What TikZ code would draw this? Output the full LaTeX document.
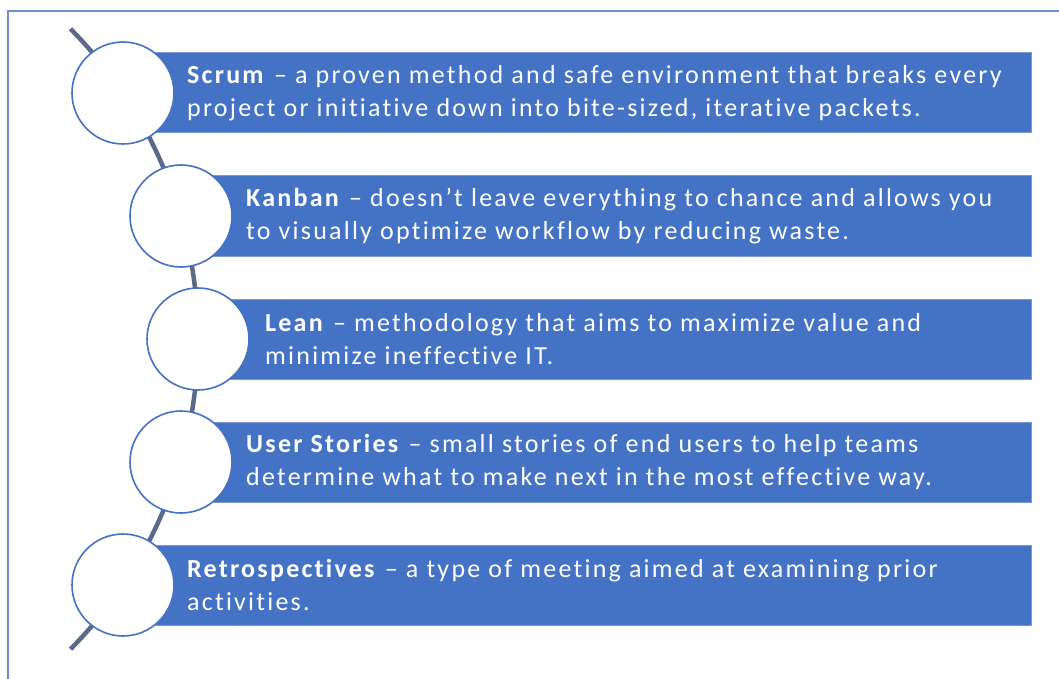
\documentclass[tikz,border=0pt]{standalone}
\usepackage{fontspec}
\setmainfont[Ligatures=NoCommon]{Carlito}
\newfontfamily\barfont[LetterSpace=8.6,Ligatures=NoCommon]{Carlito}
\definecolor{accent}{HTML}{4472C4}
\definecolor{barline}{HTML}{7A98D6}
\definecolor{framecol}{HTML}{6F8FD0}
\definecolor{spine}{RGB}{92,106,138}
\tikzset{
  circ/.style={circle, draw=accent, line width=1.6pt, fill=white, minimum size=102pt, inner sep=0pt},
  bar/.style={rectangle, draw=barline, line width=1pt, fill=accent, minimum height=80pt, inner sep=0pt, anchor=west},
  txt/.style={anchor=west, align=left, text=white, inner sep=0pt, font=\barfont\fontsize{26pt}{32.5pt}\selectfont},
}
\begin{document}
\begin{tikzpicture}[x=1pt,y=1pt]
\useasboundingbox (0,0) rectangle (1059,-679);
% frame
\draw[framecol, line width=1.5pt] (1065,-11) -- (8,-11) -- (8,-690);
% spine arc
\coordinate (arcc) at (-243,-339);
\coordinate (top) at ([shift={(44.7:441)}]arcc);
\draw[spine, line width=4.5pt] (top) arc[start angle=44.7, end angle=-44.7, radius=441];
% circle centres
\coordinate (p1) at (123,-93);
\coordinate (p2) at (181,-216);
\coordinate (p3) at (198,-339);
\coordinate (p4) at (181,-462);
\coordinate (p5) at (123,-585);
% bars
\node[bar, minimum width=908pt] (b1) at (p1) {};
\node[bar, minimum width=850pt] (b2) at (p2) {};
\node[bar, minimum width=833pt] (b3) at (p3) {};
\node[bar, minimum width=850pt] (b4) at (p4) {};
\node[bar, minimum width=908pt] (b5) at (p5) {};
% circles
\node[circ] (c1) at (p1) {};
\node[circ] (c2) at (p2) {};
\node[circ] (c3) at (p3) {};
\node[circ] (c4) at (p4) {};
\node[circ] (c5) at (p5) {};
% texts
\node[txt] (t1) at ([xshift=64pt]p1) {\textbf{Scrum} – a proven method and safe environment that breaks every\\project or initiative down into bite-sized, iterative packets.};
\node[txt] (t2) at ([xshift=65pt]p2) {\textbf{Kanban} – doesn’t leave everything to chance and allows you\\to visually optimize workflow by reducing waste.};
\node[txt] (t3) at ([xshift=67pt]p3) {\textbf{Lean} – methodology that aims to maximize value and\\minimize ineffective IT.};
\node[txt] (t4) at ([xshift=65pt]p4) {\textbf{User Stories} – small stories of end users to help teams\\determine what to make next in the most effective way.};
\node[txt] (t5) at ([xshift=64pt]p5) {\textbf{Retrospectives} – a type of meeting aimed at examining prior\\activities.};
\end{tikzpicture}
\end{document}
